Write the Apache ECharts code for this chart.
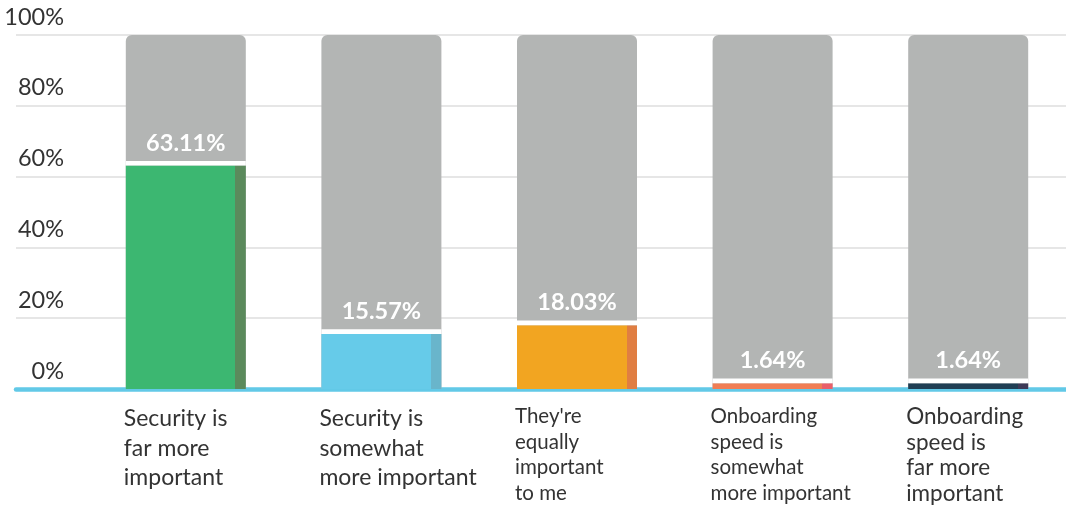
<!DOCTYPE html>
<html>
<head>
<meta charset="utf-8">
<script src="https://cdn.jsdelivr.net/npm/echarts@6/dist/echarts.min.js"></script>
<style>
  html, body { margin: 0; padding: 0; background: #fff; }
  #chart { width: 1066px; height: 508px; }
</style>
</head>
<body>
<div id="chart"></div>
<script>
const categories = [
  'Security is\nfar more\nimportant',
  'Security is\nsomewhat\nmore important',
  "They're\nequally\nimportant\nto me",
  'Onboarding\nspeed is\nsomewhat\nmore important',
  'Onboarding\nspeed is\nfar more\nimportant'
]
const values = [63.11, 15.57, 18.03, 1.64, 1.64]
const barColors = ['#3cb771', '#66cbe9', '#f2a521', '#f07e55', '#1f3e54']
const stripColors = ['#5b8a5c', '#69b5cb', '#e07e42', '#e9606a', '#3c3956']
const labelStyles = ['big', 'big', 'small', 'small', 'mid']
const yTicks = [0, 20, 40, 60, 80, 100]

const GAP = 1.3
const FONT = 'Lato, "Open Sans", sans-serif'

const chart = echarts.init(document.getElementById('chart'))

function stripFill(i) {
  return {
    type: 'linear', x: 0, y: 0, x2: 1, y2: 0,
    colorStops: [
      { offset: 0, color: barColors[i] },
      { offset: 0.914, color: barColors[i] },
      { offset: 0.914, color: stripColors[i] },
      { offset: 1, color: stripColors[i] }
    ]
  }
}

chart.setOption({
  animation: false,
  grid: [
    { left: 16, right: 0, top: 35, bottom: 119, outerBoundsMode: 'none' },
    { left: 88, right: 0, top: 35, bottom: 119, outerBoundsMode: 'none' }
  ],
  xAxis: [
    {
      gridIndex: 0, type: 'value', min: 0, max: 1,
      axisLine: { show: true, lineStyle: { color: '#62c9e7', width: 4.5 } },
      axisTick: { show: false }, axisLabel: { show: false }, splitLine: { show: false }
    },
    {
      gridIndex: 1, type: 'category', data: categories,
      axisLine: { show: false }, axisTick: { show: false },
      axisLabel: {
        interval: 0, margin: 15, align: 'left', verticalAlign: 'top',
        padding: [0, 0, 0, -62],
        formatter: (v, i) => '{' + labelStyles[i] + '|' + v + '}',
        rich: {
          big: { fontFamily: FONT, fontSize: 23, lineHeight: 29.5, color: '#333' },
          small: { fontFamily: FONT, fontSize: 20.5, lineHeight: 25.5, color: '#333' },
          mid: { fontFamily: FONT, fontSize: 22.5, lineHeight: 25.5, color: '#333' }
        }
      }
    }
  ],
  yAxis: [
    {
      gridIndex: 0, type: 'value', min: yTicks[0], max: yTicks[yTicks.length - 1], interval: 20,
      axisLine: { show: false }, axisTick: { show: false },
      splitLine: { lineStyle: { color: '#e6e6e6', width: 2 } },
      axisLabel: {
        margin: -48, align: 'right', verticalAlign: 'bottom',
        padding: [0, 0, 6, 0],
        fontFamily: FONT, fontSize: 23.5, color: '#333',
        formatter: v => v + '%'
      }
    },
    { gridIndex: 1, type: 'value', min: 0, max: 100, show: false }
  ],
  series: [
    {
      type: 'bar', xAxisIndex: 1, yAxisIndex: 1,
      barWidth: 120, barGap: '-100%', silent: true,
      data: values.map(() => 100),
      itemStyle: { color: '#b3b5b4', borderRadius: [6, 6, 0, 0] }
    },
    {
      type: 'bar', xAxisIndex: 1, yAxisIndex: 1, stack: 'v',
      barWidth: 120, barGap: '-100%', silent: true,
      data: values.map((v, i) => ({ value: v, itemStyle: { color: stripFill(i) } }))
    },
    {
      type: 'bar', xAxisIndex: 1, yAxisIndex: 1, stack: 'v',
      barWidth: 120, barGap: '-100%', silent: true,
      data: values.map(() => GAP),
      itemStyle: { color: '#ffffff' },
      label: {
        show: true, position: 'top', distance: 6,
        formatter: p => values[p.dataIndex].toFixed(2) + '%',
        color: '#ffffff', fontFamily: FONT, fontWeight: 'bold', fontSize: 23.5
      }
    }
  ]
})
</script>
</body>
</html>
